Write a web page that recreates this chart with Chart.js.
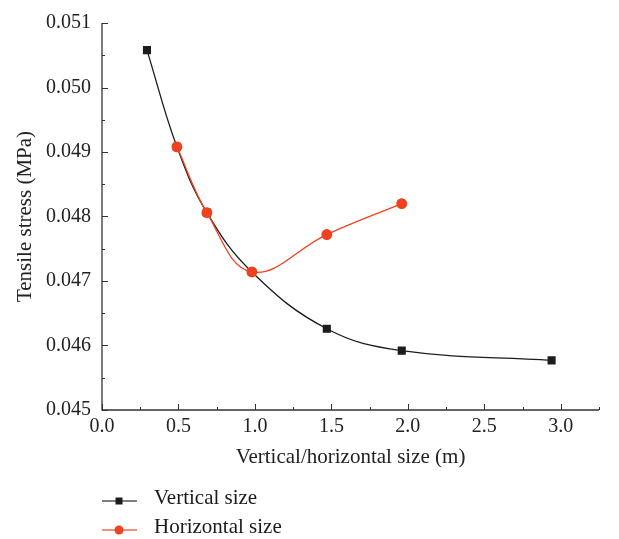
<!DOCTYPE html>
<html>
<head>
<meta charset="utf-8">
<script src="https://cdn.jsdelivr.net/npm/chart.js@4.4.0/dist/chart.umd.min.js"></script>
<style>
  html, body { margin: 0; padding: 0; background: #fff; }
  #wrap { width: 619px; height: 539px; position: relative; }
</style>
</head>
<body>
<div id="wrap"><canvas id="stressChart" width="619" height="539"></canvas></div>
<script>
// dados
var seriesNames = ['Vertical size', 'Horizontal size'];
var verticalX = [0.294, 0.49, 0.686, 0.98, 1.47, 1.96, 2.94];
var verticalY = [0.05058, 0.04908, 0.04806, 0.04714, 0.04626, 0.04592, 0.04577];
var horizontalX = [0.49, 0.686, 0.98, 1.47, 1.96];
var horizontalY = [0.04908, 0.04806, 0.04714, 0.04772, 0.04820];
var xTicks = [0, 0.5, 1.0, 1.5, 2.0, 2.5, 3.0];
var yTicks = [0.045, 0.046, 0.047, 0.048, 0.049, 0.050, 0.051];

var FONT = "'Liberation Serif', 'DejaVu Serif', serif";
var BLACK = '#1c1c1c';
var RED = '#f0421f';

function toPoints(xs, ys) {
  return xs.map(function (x, i) { return { x: x, y: ys[i] }; });
}

// ticks para dentro + eixos (so esquerda e baixo)
var axesPlugin = {
  id: 'axesPlugin',
  afterDatasetsDraw: function (chart) {
    var ctx = chart.ctx, a = chart.chartArea;
    var xs = chart.scales.x, ys = chart.scales.y;
    ctx.save();
    ctx.strokeStyle = '#333';
    ctx.lineWidth = 1.3;
    ctx.beginPath();
    ctx.moveTo(a.left, a.top);
    ctx.lineTo(a.left, a.bottom);
    ctx.lineTo(a.right, a.bottom);
    ctx.stroke();
    ctx.lineWidth = 1;
    ctx.beginPath();
    for (var v = 0; v <= 3.25 + 1e-9; v += 0.25) {
      var px = Math.round(xs.getPixelForValue(v)) + 0.5;
      var major = Math.abs(v * 2 - Math.round(v * 2)) < 1e-6;
      ctx.moveTo(px, a.bottom);
      ctx.lineTo(px, a.bottom - (major ? 6 : 3));
    }
    for (var k = 0; k <= 12; k++) {
      var val = 0.045 + k * 0.0005;
      var py = Math.round(ys.getPixelForValue(val)) + 0.5;
      ctx.moveTo(a.left, py);
      ctx.lineTo(a.left + (k % 2 === 0 ? 6 : 3), py);
    }
    ctx.stroke();
    ctx.restore();
  }
};

// legenda embaixo, uma linha por serie
var legendPlugin = {
  id: 'legendPlugin',
  afterDraw: function (chart) {
    var ctx = chart.ctx;
    var rows = [501, 530];
    ctx.save();
    chart.data.datasets.forEach(function (ds, i) {
      var y = rows[i];
      ctx.strokeStyle = ds.legendLine;
      ctx.lineWidth = 1.5;
      ctx.beginPath();
      ctx.moveTo(102, y);
      ctx.lineTo(137, y);
      ctx.stroke();
      ctx.fillStyle = ds.pointBackgroundColor;
      if (ds.pointStyle === 'rect') {
        ctx.fillRect(115.5, y - 3.5, 7, 7);
      } else {
        ctx.beginPath();
        ctx.arc(119, y, 4.5, 0, Math.PI * 2);
        ctx.fill();
      }
      ctx.fillStyle = '#1a1a1a';
      ctx.font = '21px ' + FONT;
      ctx.textBaseline = 'middle';
      ctx.textAlign = 'left';
      ctx.fillText(ds.label, 154, y - 2.5);
    });
    ctx.restore();
  }
};

var ctx = document.getElementById('stressChart').getContext('2d');
new Chart(ctx, {
  type: 'scatter',
  data: {
    datasets: [
      {
        label: seriesNames[0],
        data: toPoints(verticalX, verticalY),
        showLine: true,
        borderColor: BLACK,
        backgroundColor: BLACK,
        pointBackgroundColor: BLACK,
        pointBorderColor: BLACK,
        legendLine: '#555',
        pointStyle: 'rect',
        pointRadius: 4.8,
        borderWidth: 1.3,
        tension: 0.4,
        order: 2
      },
      {
        label: seriesNames[1],
        data: toPoints(horizontalX, horizontalY),
        showLine: true,
        borderColor: RED,
        backgroundColor: RED,
        pointBackgroundColor: RED,
        pointBorderColor: RED,
        legendLine: '#f26a55',
        pointStyle: 'circle',
        pointRadius: 4.8,
        borderWidth: 1.3,
        tension: 0.4,
        order: 1
      }
    ]
  },
  options: {
    responsive: false,
    animation: false,
    layout: { padding: { left: 0, top: 20, right: 20, bottom: 69 } },
    plugins: {
      legend: { display: false },
      tooltip: { enabled: false }
    },
    scales: {
      x: {
        type: 'linear',
        min: 0,
        max: 3.25,
        border: { display: false },
        grid: { display: false, drawTicks: false },
        afterBuildTicks: function (scale) {
          scale.ticks = xTicks.map(function (v) { return { value: v }; });
        },
        afterFit: function (scale) { scale.height = 60; },
        ticks: {
          padding: 5,
          color: '#222',
          font: { family: FONT, size: 20 },
          callback: function (v) { return Number(v).toFixed(1); }
        },
        title: {
          display: true,
          text: 'Vertical/horizontal size (m)',
          color: '#222',
          font: { family: FONT, size: 21 },
          padding: { top: 0, bottom: 0 }
        }
      },
      y: {
        type: 'linear',
        min: 0.045,
        max: 0.051,
        border: { display: false },
        grid: { display: false, drawTicks: false },
        afterBuildTicks: function (scale) {
          scale.ticks = yTicks.map(function (v) { return { value: v }; });
        },
        afterFit: function (scale) { scale.width = 102; },
        ticks: {
          padding: 11,
          color: '#222',
          font: { family: FONT, size: 20 },
          callback: function (v) { return Number(v).toFixed(3); }
        },
        title: {
          display: true,
          text: 'Tensile stress (MPa)',
          color: '#222',
          font: { family: FONT, size: 21 },
          padding: { top: 13, bottom: 0 }
        }
      }
    }
  },
  plugins: [axesPlugin, legendPlugin]
});
</script>
</body>
</html>
